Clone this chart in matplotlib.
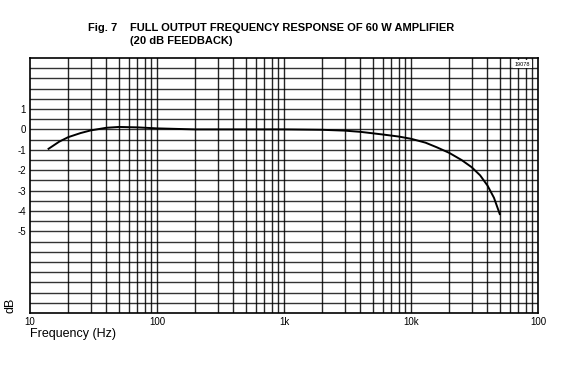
#!/usr/bin/env python3
"""Full output frequency response of 60 W amplifier (Fig. 7)."""

import matplotlib
matplotlib.use("Agg")
import matplotlib.pyplot as plt
import numpy as np

# response curve
freq_hz = [14, 17, 20, 25, 30, 40, 50, 70, 100, 200, 500, 1000, 2000,
           3000, 4000, 6000, 8000, 10000, 13000, 16000, 20000, 25000,
           30000, 35000, 40000, 45000, 50000]
gain_db = [-0.95, -0.6, -0.38, -0.18, -0.05, 0.08, 0.12, 0.1, 0.05, 0.0,
           0.0, 0.0, -0.02, -0.06, -0.12, -0.25, -0.35, -0.46, -0.65,
           -0.88, -1.15, -1.5, -1.85, -2.25, -2.75, -3.35, -4.15]

xtick_pos = [10, 100, 1000, 10000, 100000]
xtick_lab = ["10", "100", "1k", "10k", "100"]
ytick_pos = [1, 0, -1, -2, -3, -4, -5]
ytick_lab = ["1", "0", "-1", "-2", "-3", "-4", "-5"]

plt.rcParams["font.family"] = ["Liberation Sans", "DejaVu Sans"]

fig = plt.figure(figsize=(5.7, 3.75), dpi=100)
ax = fig.add_axes([30 / 570, 1 - 313 / 375, 508 / 570, 255 / 375])
ax.set_xscale("log")
ax.set_xlim(10, 100000)
ax.set_ylim(-9, 3.5)

# log paper grid: every integer multiple in each decade, 0.5 dB rows
vlines = [m * 10 ** d for d in range(1, 5) for m in range(1, 10)]
for v in vlines[1:]:
    ax.axvline(v, color="black", lw=1.0, alpha=0.85, zorder=1)
for h in np.arange(-8.5, 3.5, 0.5):
    ax.axhline(h, color="black", lw=1.0, alpha=0.8, zorder=1)

ax.plot(freq_hz, gain_db, color="black", lw=1.4, zorder=3)

ax.set_xticks(xtick_pos)
ax.set_xticklabels(xtick_lab, fontsize=7)
ax.xaxis.set_minor_locator(matplotlib.ticker.NullLocator())
ax.set_yticks(ytick_pos)
ax.set_yticklabels(ytick_lab, fontsize=7)
ax.tick_params(length=0, pad=3)
for s in ax.spines.values():
    s.set_linewidth(1.2)

fig.text(11 / 570, 1 - 305 / 375, "dB", fontsize=9, rotation=90,
         ha="center", va="center")
fig.text(30 / 570, 1 - 334 / 375, "Frequency (Hz)", fontsize=9,
         va="center", ha="left")

ax.text(0.985, 0.985, "19078", transform=ax.transAxes, fontsize=4,
        ha="right", va="top", zorder=5,
        bbox=dict(facecolor="white", edgecolor="none", pad=1))

fig.text(88 / 570, 1 - 28 / 375, "Fig. 7", fontsize=8,
         fontweight="bold", va="center")
fig.text(130 / 570, 1 - 28 / 375,
         "FULL OUTPUT FREQUENCY RESPONSE OF 60 W AMPLIFIER",
         fontsize=8, fontweight="bold", va="center")
fig.text(130 / 570, 1 - 41 / 375, "(20 dB FEEDBACK)", fontsize=8,
         fontweight="bold", va="center")

fig.savefig("out.png", dpi=100)
